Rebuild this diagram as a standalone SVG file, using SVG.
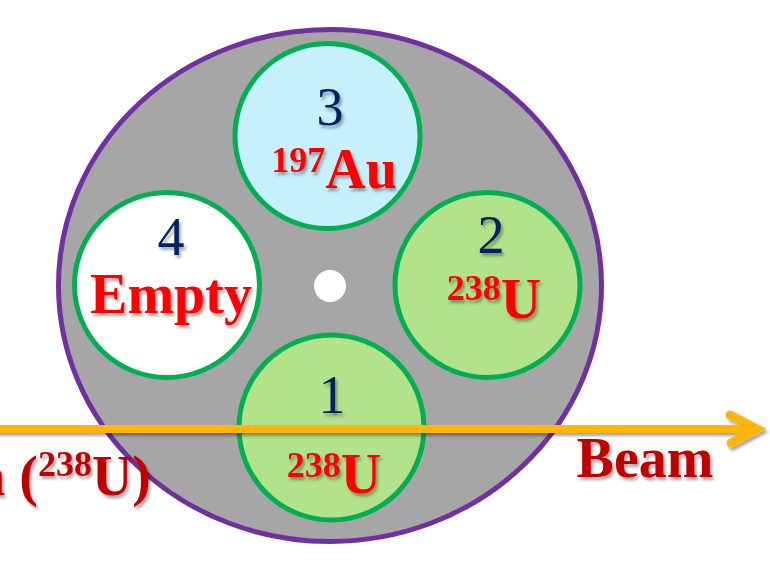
<svg xmlns="http://www.w3.org/2000/svg" width="770" height="564" viewBox="0 0 770 564">
<defs>
<filter id="sh" x="-20%" y="-20%" width="140%" height="160%">
<feDropShadow dx="2" dy="3" stdDeviation="1.6" flood-color="#000" flood-opacity="0.35"/>
</filter>
<style>
.slot{stroke:#00B050;stroke-width:5}
.num{font-family:"Liberation Serif","Times New Roman",serif;font-size:54px;fill:#002060;text-anchor:middle}
.iso{font-family:"Liberation Serif","Times New Roman",serif;font-weight:bold;font-size:56px;fill:#FF0000;text-anchor:middle}
.sup{font-size:36px}
.dark{fill:#C00000}
</style>
</defs>
<rect width="770" height="564" fill="#FFFFFF"/>
<g id="wheel">
<ellipse cx="330" cy="285.5" rx="271.5" ry="256" fill="#A6A6A6" stroke="#7030A0" stroke-width="5"/>
<circle cx="330" cy="286" r="16" fill="#FFFFFF"/>
</g>
<g id="slot3">
<circle class="slot" cx="327.5" cy="136" r="92.5" fill="#C6F0FC"/>
</g>
<g id="slot4">
<circle class="slot" cx="167" cy="285" r="92.5" fill="#FFFFFF"/>
</g>
<g id="slot2">
<circle class="slot" cx="487.5" cy="285" r="92.5" fill="#B2E28A"/>
</g>
<g id="slot1">
<circle class="slot" cx="331.5" cy="427.5" r="92.5" fill="#B2E28A"/>
</g>
<g id="connectors" filter="url(#sh)">
<line x1="-5" y1="429" x2="754" y2="429" stroke="#FFB50F" stroke-width="8"/>
<polyline points="730,415 757,429 731,443" fill="none" stroke="#FFB50F" stroke-width="9" stroke-linecap="round" stroke-linejoin="miter"/>
</g>
<g id="labels" filter="url(#sh)">
<text class="num" x="330" y="125">3</text>
<text class="iso" x="334" y="188"><tspan class="sup" dy="-16">197</tspan><tspan dy="16">Au</tspan></text>
<text class="num" x="171" y="255">4</text>
<text class="iso" x="171" y="313">Empty</text>
<text class="num" x="491" y="253">2</text>
<text class="iso" x="494" y="318"><tspan class="sup" dy="-18">238</tspan><tspan dy="18">U</tspan></text>
<text class="num" x="332" y="413">1</text>
<text class="iso" x="334" y="493"><tspan class="sup" dy="-16">238</tspan><tspan dy="16">U</tspan></text>
<text class="iso dark" x="645" y="477" font-size="54">Beam</text>
<text class="iso dark" x="151" y="495" style="text-anchor:end">n (<tspan class="sup" dy="-19">238</tspan><tspan dy="19">U)</tspan></text>
</g>
</svg>
